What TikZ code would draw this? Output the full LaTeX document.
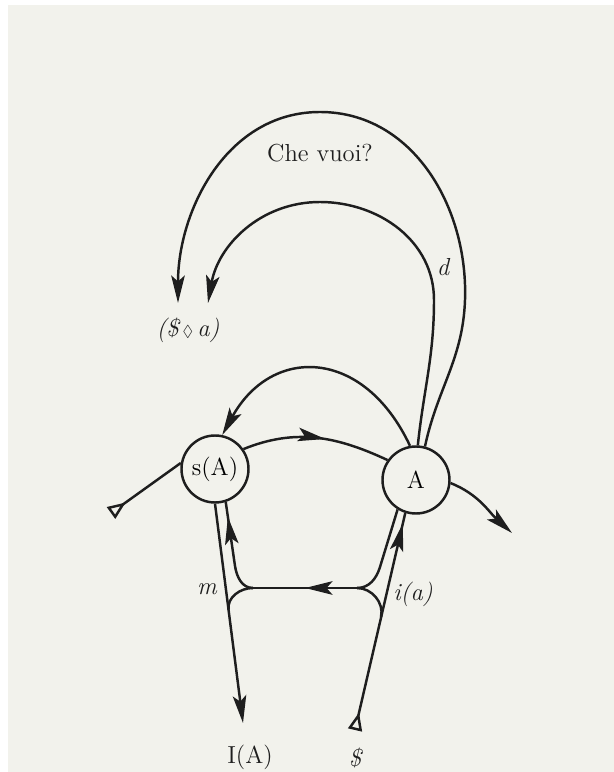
\documentclass[tikz,border=0pt]{standalone}
\usepackage{amsmath, amssymb}
\usepackage{tikz}
\usetikzlibrary{arrows.meta, positioning, decorations.markings, calc}
\definecolor{papier}{RGB}{242,242,236}
\definecolor{encre}{RGB}{30,30,30}

\begin{document}
\begin{tikzpicture}[
	>={Stealth[length=5.5mm, width=2.7mm, inset=1.2mm]},
	butee/.tip={Triangle[open, reversed, length=3.6mm, width=2.8mm]},
	trait/.style={draw=encre, line width=1.4pt},
	rond/.style={circle, draw=encre, line width=1.4pt, fill=papier,
		minimum size=1.34cm, inner sep=0pt,
		font=\fontsize{14}{16}\selectfont},
	lbl/.style={font=\fontsize{14}{16}\selectfont, text=encre, inner sep=1pt},
	lbli/.style={lbl, font=\fontsize{14}{16}\selectfont\itshape},
	milieu/.style={postaction={decorate},
		decoration={markings, mark=at position #1 with {\arrow{>}}}}
	]
	% fond de la page
	\fill[white] (0,0) rectangle (12.28,15.44);
	\fill[papier] (0.16,0) rectangle (12.28,15.34);
	
	% les deux cercles
	\node[rond] (sA) at (4.30,6.06) {s(A)};
	\node[rond] (A) at (8.32,5.84) {A};
	
	% textes
	\node[lbl]  (vuoi) at (6.40,12.38) {Che vuoi?};
	\node[lbli] (Sa) at (3.76,8.84) {(\$\,{\small$\Diamond$}\,a)};
	\node[lbli] (d) at (8.86,10.10) {d};
	\node[lbli] (m) at (4.14,3.66) {m};
	\node[lbli] (ia) at (8.26,3.56) {i(a)};
	\node[lbl]  (IA) at (5.00,0.30) {I(A)};
	\node[lbli] (S) at (7.10,0.28) {\$};
	
	% points libres
	\coordinate (jl) at (5.06,3.68);
	\coordinate (jr) at (7.14,3.68);
	\coordinate (il) at (4.70,4.12);
	\coordinate (ir) at (7.60,4.10);
	\coordinate (ml) at (4.57,3.24);
	\coordinate (mr) at (7.62,3.10);
	\coordinate (iafin) at (4.86,0.98);
	\coordinate (sdebut) at (7.10,0.84);
	\coordinate (gauche) at (2.22,5.18);
	\coordinate (droite) at (10.24,4.78);
	\coordinate (pointe1) at (3.56,9.38);
	\coordinate (pointe2) at (4.16,9.38);
	
	% les deux boucles du haut
	\draw[trait,->] (A.75) to[out=78,in=-92] (9.30,9.44)
		to[out=88,in=0] (6.40,13.20) to[out=180,in=90] (pointe1);
	\draw[trait,->] (A.87) to[out=84,in=-90] (8.68,9.44)
		to[out=90,in=0] (6.40,11.40) to[out=180,in=80] (pointe2);
	
	% entre s(A) et A
	\draw[trait,->] (A.100) .. controls (7.27,8.50) and (5.43,8.53) .. (sA.78);
	\draw[trait,milieu=0.56] (sA.35) to[out=22,in=155] (A.145);
	\draw[trait,-butee] (sA.170) -- (gauche);
	\draw[trait,->] (A.-5) to[out=-22,in=138] (droite);
	
	% partie basse
	\draw[trait,->] (sA.-90) -- (iafin);
	\draw[trait,milieu=-0.3cm] (jl) to[out=180,in=-81] (il) -- (sA.-72);
	\draw[trait] (jl) to[out=180,in=97] (ml);
	\draw[trait,milieu=0.5] (jr) -- (jl);
	\draw[trait] (jr) to[out=0,in=-107] (ir) -- (A.-122);
	\draw[trait] (jr) to[out=0,in=77] (mr);
	\draw[trait,butee-,milieu=-0.22cm] (sdebut) -- (A.-108);
\end{tikzpicture}
\end{document}
